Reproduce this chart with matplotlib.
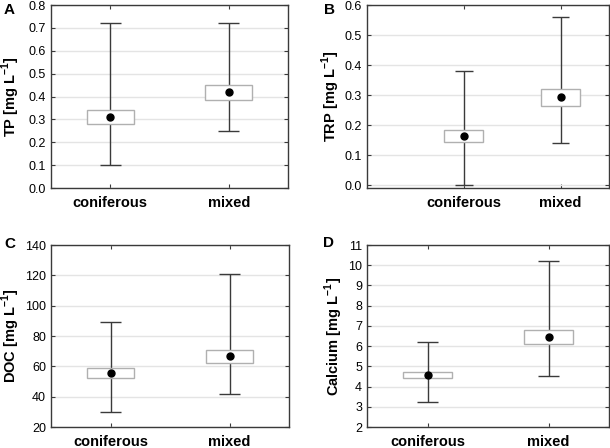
import matplotlib
matplotlib.use("Agg")
import matplotlib.pyplot as plt
from matplotlib.patches import Rectangle

plt.rcParams['font.family'] = ['Liberation Sans', 'DejaVu Sans']
plt.rcParams['mathtext.fontset'] = 'custom'
plt.rcParams['mathtext.bf'] = 'Liberation Sans:bold'
plt.rcParams['mathtext.rm'] = 'Liberation Sans'

categories = ["coniferous", "mixed"]

# TP
tp_mean = [0.31, 0.418]
tp_box_lo = [0.278, 0.386]
tp_box_hi = [0.342, 0.45]
tp_wlo = [0.10, 0.25]
tp_whi = [0.72, 0.72]

# TRP
trp_mean = [0.163, 0.292]
trp_box_lo = [0.145, 0.265]
trp_box_hi = [0.183, 0.32]
trp_wlo = [0.0, 0.14]
trp_whi = [0.38, 0.56]

# DOC
doc_mean = [55.5, 66.5]
doc_box_lo = [52.0, 62.0]
doc_box_hi = [59.0, 70.5]
doc_wlo = [30.0, 42.0]
doc_whi = [89.0, 121.0]

# Calcium
ca_mean = [4.57, 6.43]
ca_box_lo = [4.43, 6.10]
ca_box_hi = [4.72, 6.78]
ca_wlo = [3.25, 4.50]
ca_whi = [6.20, 10.20]

W, H = 610, 448
fig = plt.figure(figsize=(W / 100, H / 100), dpi=100)


def px_axes(l, r, t, b):
    return fig.add_axes([l / W, 1 - b / H, (r - l) / W, (b - t) / H])


def panel(ax, mean, blo, bhi, wlo, whi, ylim, yticks, ytl, xlim, ylabel,
          letter, letter_xy, ylabel_x):
    ax.set_xlim(*xlim)
    ax.set_ylim(*ylim)
    ax.set_yticks(yticks)
    ax.set_yticklabels(ytl)
    ax.set_xticks(range(len(categories)))
    ax.set_xticklabels(categories, fontweight='bold')
    ax.yaxis.grid(True, color='#e4e4e4', linewidth=1.0)
    ax.set_axisbelow(True)
    for i in range(len(categories)):
        ax.vlines(i, wlo[i], whi[i], color='#3a3a3a', linewidth=1.0, zorder=2)
        ax.hlines([wlo[i], whi[i]], i - 0.09, i + 0.09, color='#3a3a3a',
                  linewidth=1.0, zorder=2)
        ax.add_patch(Rectangle((i - 0.2, blo[i]), 0.4, bhi[i] - blo[i],
                               facecolor='white', edgecolor='#b0b0b0',
                               linewidth=1.0, zorder=3))
        ax.plot(i, mean[i], 'o', color='black', markersize=5, zorder=4)
    ax.tick_params(direction='in', length=3, width=0.8, color='#3a3a3a',
                   top=True, right=True)
    ax.tick_params(axis='y', pad=3.5, labelsize=9)
    ax.tick_params(axis='x', pad=5.5, labelsize=10.5)
    for s in ax.spines.values():
        s.set_color('#3a3a3a')
        s.set_linewidth(1.0)
    # axis title and panel letter placed in figure pixels
    bb = ax.get_position()
    yc = (bb.y0 + bb.y1) / 2
    fig.text(ylabel_x / W, yc, ylabel, rotation=90, fontweight='bold',
             fontsize=10.5, ha='center', va='center')
    fig.text(letter_xy[0] / W, 1 - letter_xy[1] / H, letter, fontweight='bold',
             fontsize=11, ha='left', va='center')


axA = px_axes(51, 288, 5, 188)
panel(axA, tp_mean, tp_box_lo, tp_box_hi, tp_wlo, tp_whi, (0, 0.8),
      [0, 0.1, 0.2, 0.3, 0.4, 0.5, 0.6, 0.7, 0.8],
      ["0.0", "0.1", "0.2", "0.3", "0.4", "0.5", "0.6", "0.7", "0.8"],
      (-0.5, 1.5), r"TP [mg L$^{\mathbf{-1}}$]", "A", (4, 10.5), 11)

axB = px_axes(367, 609, 5, 188)
panel(axB, trp_mean, trp_box_lo, trp_box_hi, trp_wlo, trp_whi, (-0.01, 0.6),
      [0, 0.1, 0.2, 0.3, 0.4, 0.5, 0.6],
      ["0.0", "0.1", "0.2", "0.3", "0.4", "0.5", "0.6"],
      (-1.0, 1.5), r"TRP [mg L$^{\mathbf{-1}}$]", "B", (324, 10.5), 331)

axC = px_axes(51, 289, 245, 427)
panel(axC, doc_mean, doc_box_lo, doc_box_hi, doc_wlo, doc_whi, (20, 140),
      [20, 40, 60, 80, 100, 120, 140],
      ["20", "40", "60", "80", "100", "120", "140"],
      (-0.5, 1.5), r"DOC [mg L$^{\mathbf{-1}}$]", "C", (4, 243.5), 11)

axD = px_axes(367, 609, 245, 427)
panel(axD, ca_mean, ca_box_lo, ca_box_hi, ca_wlo, ca_whi, (2, 11),
      list(range(2, 12)), [str(v) for v in range(2, 12)],
      (-0.5, 1.5), r"Calcium [mg L$^{\mathbf{-1}}$]", "D", (323, 243), 334)

fig.savefig("out.png", dpi=100)
